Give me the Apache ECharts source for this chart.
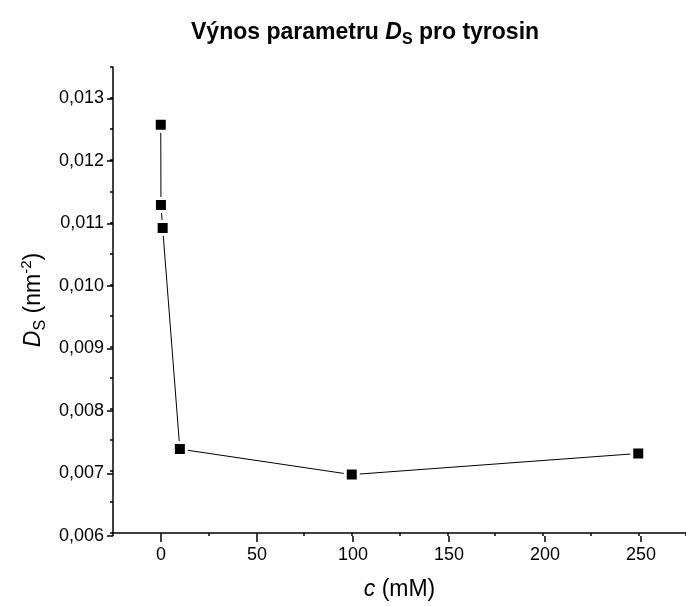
<!DOCTYPE html>
<html><head><meta charset="utf-8">
<script src="https://cdn.jsdelivr.net/npm/echarts@6/dist/echarts.min.js"></script>
<style>html,body{margin:0;padding:0;background:#fff}#c{width:686px;height:606px}</style>
</head><body><div id="c"></div>
<script>
// Data
const concentration = [0.01, 0.1, 1, 10, 100, 250];
const dsValues = [0.01257, 0.01128, 0.01091, 0.00735, 0.00694, 0.00728];
const xTickValues = [0, 50, 100, 150, 200, 250];
const xTickLabels = ['0', '50', '100', '150', '200', '250'];
const yTickValues = [0.006, 0.007, 0.008, 0.009, 0.010, 0.011, 0.012, 0.013];
const yTickLabels = ['0,006', '0,007', '0,008', '0,009', '0,010', '0,011', '0,012', '0,013'];

const FONT = 'Liberation Sans, Arial, sans-serif';
const seriesData = concentration.map((c, i) => [c, dsValues[i]]);
function lookup(vals, labels, v) {
  for (let i = 0; i < vals.length; i++) if (Math.abs(vals[i] - v) < 1e-9) return labels[i];
  return '';
}

const chart = echarts.init(document.getElementById('c'), null, {renderer: 'canvas'});
chart.setOption({
  animation: false,
  backgroundColor: '#fff',
  title: {
    text: '{b|Výnos parametru }{i|D}{s|S}{b| pro tyrosin}',
    left: 186, top: 13,
    textStyle: {
      rich: {
        b: {fontFamily: FONT, fontWeight: 'bold', fontSize: 23, color: '#000', lineHeight: 30},
        i: {fontFamily: FONT, fontWeight: 'bold', fontStyle: 'italic', fontSize: 23, color: '#000', lineHeight: 30},
        s: {fontFamily: FONT, fontWeight: 'bold', fontSize: 16, color: '#000', lineHeight: 16, verticalAlign: 'bottom'}
      }
    }
  },
  grid: [
    {left: 113, width: 576, top: 67, bottom: 70},
    {left: 161, width: 480, top: 98.3, bottom: 70}
  ],
  xAxis: [
    {
      gridIndex: 0, type: 'value', min: -25, max: 275, interval: 25,
      axisLine: {show: true, onZero: false, lineStyle: {color: '#000', width: 1.5}},
      axisTick: {show: true, length: 3, lineStyle: {color: '#000', width: 1.5}},
      axisLabel: {show: false}, splitLine: {show: false},
      name: '{i|c}{n| (mM)}', nameLocation: 'middle', nameGap: 45,
      nameTextStyle: {
        rich: {
          i: {fontFamily: FONT, fontStyle: 'italic', fontSize: 23, color: '#000'},
          n: {fontFamily: FONT, fontSize: 23, color: '#000'}
        }
      }
    },
    {
      gridIndex: 1, type: 'value', min: 0, max: 250, interval: 50,
      axisLine: {show: false, onZero: false},
      axisTick: {show: true, length: 6, lineStyle: {color: '#000', width: 1.5}},
      axisLabel: {show: true, margin: 10, fontFamily: FONT, fontSize: 18, color: '#000',
        formatter: v => lookup(xTickValues, xTickLabels, v)},
      splitLine: {show: false}
    }
  ],
  yAxis: [
    {
      gridIndex: 0, type: 'value', min: 0.006, max: 0.0135, interval: 0.0005,
      axisLine: {show: true, onZero: false, lineStyle: {color: '#000', width: 1.5}},
      axisTick: {show: true, length: 3, lineStyle: {color: '#000', width: 1.5}},
      axisLabel: {show: false}, splitLine: {show: false},
      name: '{i|D}{s|S}{n| (nm}{p|-2}{n|)}', nameLocation: 'middle', nameGap: 64, nameRotate: 90,
      nameTextStyle: {
        rich: {
          i: {fontFamily: FONT, fontStyle: 'italic', fontSize: 23, color: '#000', lineHeight: 30},
          s: {fontFamily: FONT, fontSize: 16, color: '#000', lineHeight: 16, verticalAlign: 'bottom'},
          n: {fontFamily: FONT, fontSize: 23, color: '#000', lineHeight: 30},
          p: {fontFamily: FONT, fontSize: 15, color: '#000', lineHeight: 15, verticalAlign: 'top'}
        }
      }
    },
    {
      gridIndex: 1, type: 'value', min: 0.006, max: 0.013, interval: 0.001, offset: 48,
      axisLine: {show: false, onZero: false},
      axisTick: {show: true, length: 6, lineStyle: {color: '#000', width: 1.5}},
      axisLabel: {show: true, margin: 9, fontFamily: FONT, fontSize: 18, color: '#000',
        formatter: v => lookup(yTickValues, yTickLabels, v)},
      splitLine: {show: false}
    }
  ],
  series: [{
    type: 'line',
    xAxisIndex: 0, yAxisIndex: 0,
    data: seriesData,
    symbol: 'rect', symbolSize: 13,
    itemStyle: {color: '#000', borderColor: '#fff', borderWidth: 3},
    lineStyle: {color: '#000', width: 1},
    clip: false
  }]
});
</script>
</body></html>
